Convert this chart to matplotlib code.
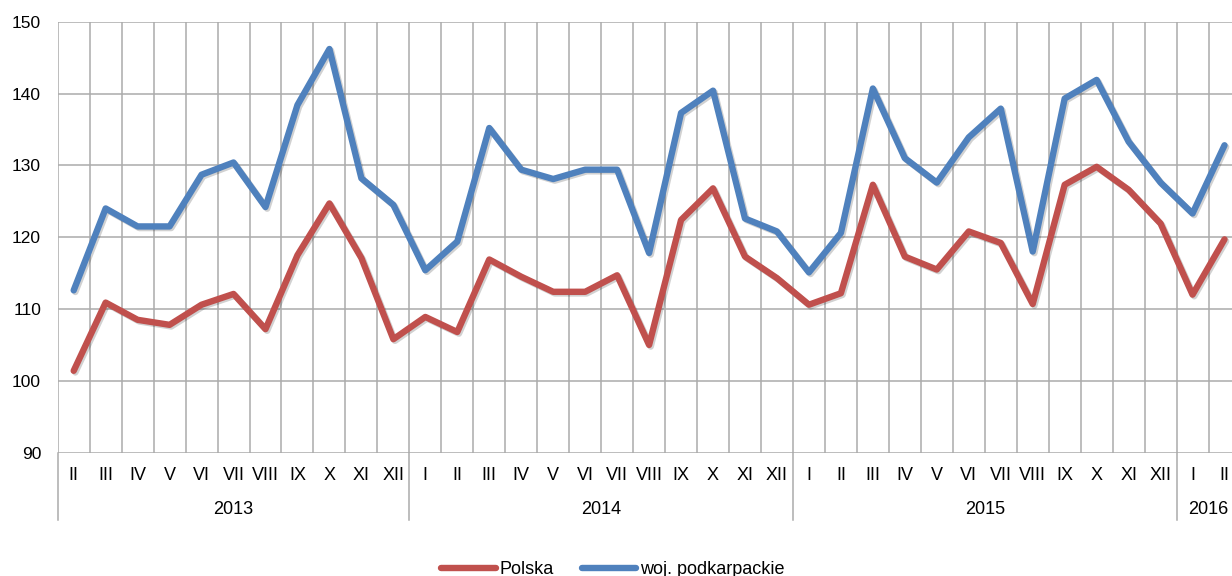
import matplotlib
matplotlib.use("Agg")
import matplotlib.pyplot as plt
import matplotlib.patheffects as pe
from matplotlib.transforms import blended_transform_factory

plt.rcParams['font.family'] = ['Liberation Sans', 'DejaVu Sans']

months = ["II", "III", "IV", "V", "VI", "VII", "VIII", "IX", "X", "XI", "XII",
          "I", "II", "III", "IV", "V", "VI", "VII", "VIII", "IX", "X", "XI", "XII",
          "I", "II", "III", "IV", "V", "VI", "VII", "VIII", "IX", "X", "XI", "XII",
          "I", "II"]
years = ["2013", "2014", "2015", "2016"]
year_counts = [11, 12, 12, 2]

polska = [101.4, 110.9, 108.5, 107.8, 110.6, 112.1, 107.2, 117.5, 124.7, 117.1, 105.8,
          108.9, 106.8, 116.9, 114.5, 112.4, 112.4, 114.7, 105.0, 122.4, 126.8, 117.3, 114.3,
          110.6, 112.2, 127.3, 117.3, 115.5, 120.8, 119.2, 110.7, 127.3, 129.8, 126.6, 121.9,
          112.0, 119.7]
podkarpackie = [112.6, 124.0, 121.5, 121.5, 128.7, 130.4, 124.2, 138.4, 146.2, 128.2, 124.5,
                115.4, 119.4, 135.2, 129.4, 128.1, 129.4, 129.4, 117.8, 137.3, 140.4, 122.6, 120.8,
                115.1, 120.6, 140.7, 131.0, 127.6, 133.9, 137.9, 118.0, 139.3, 141.9, 133.3, 127.6,
                123.3, 132.8]
series_names = ["Polska", "woj. podkarpackie"]
colors = ["#C0504D", "#4F81BD"]

W, H = 1232, 576
fig = plt.figure(figsize=(W / 100, H / 100), dpi=100)
left, right, top, bottom = 57.7, 1240.5, 21.7, 452.7
ax = fig.add_axes([left / W, 1 - bottom / H, (right - left) / W, (bottom - top) / H])

n = len(months)
ax.set_xlim(0, n)
ax.set_ylim(90, 150)
for s in ax.spines.values():
    s.set_visible(False)
ax.set_xticks([])
ax.set_yticks(range(90, 151, 10))
ax.tick_params(axis='y', length=0, pad=12, labelsize=12.5)

grid_c = "#ABABAB"
for yv in range(90, 151, 10):
    ax.axhline(yv, color=grid_c, lw=1.1, zorder=1)
for i in range(n + 1):
    ax.axvline(i, color=grid_c, lw=1.1, zorder=1)

# year separators extending below the axis
ext = -(520 - bottom) / (bottom - top)
trans = blended_transform_factory(ax.transData, ax.transAxes)
pos = 0
bounds = [0]
for c in year_counts:
    pos += c
    bounds.append(pos)
for b in bounds:
    ax.plot([b, b], [0, ext], color=grid_c, lw=1.1, transform=trans, clip_on=False, zorder=1)

month_y = -(475 - bottom) / (bottom - top)
year_y = -(509 - bottom) / (bottom - top)
for i, m in enumerate(months):
    ax.text(i + 0.5, month_y, m, transform=trans, ha='center', va='center', fontsize=13)
for k, yr in enumerate(years):
    ax.text((bounds[k] + bounds[k + 1]) / 2, year_y, yr, transform=trans,
            ha='center', va='center', fontsize=13)

xs = [i + 0.5 for i in range(n)]
shadow = [pe.SimpleLineShadow(offset=(1.2, -1.2), alpha=0.18, shadow_color='black'), pe.Normal()]
for vals, name, col in zip([polska, podkarpackie], series_names, colors):
    ax.plot(xs, vals, color=col, lw=4.6, solid_capstyle='round', solid_joinstyle='round',
            label=name, zorder=3, path_effects=shadow)

leg = fig.legend(loc='center', bbox_to_anchor=(613 / W, 1 - 569.5 / H), ncol=2, frameon=False,
                 fontsize=13, handlelength=3.0, handletextpad=0.2, columnspacing=1.6)
for h in leg.get_lines():
    h.set_path_effects([])

fig.savefig("out.png", dpi=100)
